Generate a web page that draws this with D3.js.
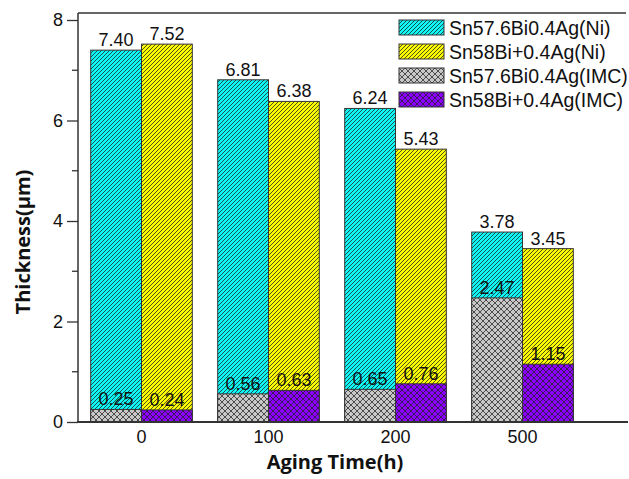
<!DOCTYPE html>
<html>
<head>
<meta charset="utf-8">
<script src="https://cdn.jsdelivr.net/npm/d3@7"></script>
<style>
  html, body { margin: 0; padding: 0; background: #fff; }
  svg { display: block; }
</style>
</head>
<body>
<svg id="chart" width="629" height="479"></svg>
<script>
// Aging time groups
const categories = ["0", "100", "200", "500"];
// Ni layer thickness (µm)
const niSnBiAg = [7.40, 6.81, 6.24, 3.78];
const niSnBiPlusAg = [7.52, 6.38, 5.43, 3.45];
// IMC layer thickness (µm)
const imcSnBiAg = [0.25, 0.56, 0.65, 2.47];
const imcSnBiPlusAg = [0.24, 0.63, 0.76, 1.15];
const seriesNames = ["Sn57.6Bi0.4Ag(Ni)", "Sn58Bi+0.4Ag(Ni)", "Sn57.6Bi0.4Ag(IMC)", "Sn58Bi+0.4Ag(IMC)"];
const yTicks = [0, 2, 4, 6, 8];
const yMinorTicks = [1, 3, 5, 7];

const ARIAL = "Arial, 'Liberation Sans', sans-serif";
const TITLE_FONT = "'Open Sans', Lato, sans-serif";

const svg = d3.select("#chart");
const W = 629, H = 479;
const margin = { left: 78, right: 43, top: 20, bottom: 57 };

const y = d3.scaleLinear().domain([0, 8]).range([H - margin.bottom, margin.top]);
const x = d3.scaleBand().domain(categories).range([margin.left, W - margin.right])
  .paddingInner(0.2).paddingOuter(0.1);
const sub = d3.scaleBand().domain([0, 1]).range([0, x.bandwidth()]);

// Fill patterns
const defs = svg.append("defs");
function hatch(id, bg) {
  const p = defs.append("pattern").attr("id", id).attr("patternUnits", "userSpaceOnUse")
    .attr("width", 4).attr("height", 4);
  p.append("rect").attr("width", 4).attr("height", 4).attr("fill", bg);
  p.append("path").attr("d", "M-1,1 l2,-2 M0,4 l4,-4 M3,5 l2,-2")
    .attr("stroke", "#1a1a1a").attr("stroke-width", 0.75);
}
function cross(id, bg) {
  const s = 6;
  const p = defs.append("pattern").attr("id", id).attr("patternUnits", "userSpaceOnUse")
    .attr("width", s).attr("height", s);
  p.append("rect").attr("width", s).attr("height", s).attr("fill", bg);
  p.append("path").attr("d", `M0,0 L${s},${s} M${s},0 L0,${s}`)
    .attr("stroke", "#222").attr("stroke-width", 0.75);
}
hatch("pCyan", "#10f6f6");
hatch("pYellow", "#fafa00");
cross("pGrey", "#c8c8c8");
cross("pPurple", "#8c00ff");
const fills = ["url(#pCyan)", "url(#pYellow)", "url(#pGrey)", "url(#pPurple)"];

const niSeries = [niSnBiAg, niSnBiPlusAg];
const imcSeries = [imcSnBiAg, imcSnBiPlusAg];

// Bars: Ni layer drawn full height, IMC layer overlaid from the base
const g = svg.append("g");
[0, 1].forEach(s => {
  g.selectAll(null).data(categories).enter().append("rect")
    .attr("x", (c) => x(c) + sub(s))
    .attr("width", sub.bandwidth())
    .attr("y", (c, i) => y(niSeries[s][i]))
    .attr("height", (c, i) => y(0) - y(niSeries[s][i]))
    .attr("fill", fills[s]).attr("stroke", "#333").attr("stroke-width", 1);
  g.selectAll(null).data(categories).enter().append("rect")
    .attr("x", (c) => x(c) + sub(s))
    .attr("width", sub.bandwidth())
    .attr("y", (c, i) => y(imcSeries[s][i]))
    .attr("height", (c, i) => y(0) - y(imcSeries[s][i]))
    .attr("fill", fills[s + 2]).attr("stroke", "#333").attr("stroke-width", 1);
});

// Value labels
function valueLabels(series, s) {
  g.selectAll(null).data(categories).enter().append("text")
    .attr("x", (c) => x(c) + sub(s) + sub.bandwidth() / 2)
    .attr("y", (c, i) => y(series[i]) - 4)
    .attr("text-anchor", "middle")
    .style("font-family", ARIAL).style("font-size", "18px").style("fill", "#111")
    .text((c, i) => series[i].toFixed(2));
}
[0, 1].forEach(s => { valueLabels(niSeries[s], s); valueLabels(imcSeries[s], s); });

// Y axis
const yAxis = svg.append("g").attr("transform", `translate(${margin.left},0)`)
  .call(d3.axisLeft(y).tickValues(yTicks).tickSize(11).tickPadding(4).tickFormat(d3.format("d")));
yAxis.select(".domain").remove();
yAxis.selectAll("line").attr("stroke", "#333").attr("stroke-width", 1.3);
yAxis.selectAll("text").style("font-size", "18px").style("fill", "#111").style("font-family", ARIAL);
svg.append("g").selectAll("line").data(yMinorTicks).enter().append("line")
  .attr("x1", margin.left - 6).attr("x2", margin.left)
  .attr("y1", d => y(d)).attr("y2", d => y(d))
  .attr("stroke", "#333").attr("stroke-width", 1.3);

// Frame: left axis line, top line, bottom axis
svg.append("line").attr("x1", margin.left).attr("x2", margin.left)
  .attr("y1", 13).attr("y2", y(0)).attr("stroke", "#333").attr("stroke-width", 1.5);
svg.append("line").attr("x1", margin.left).attr("x2", 626)
  .attr("y1", 13).attr("y2", 13).attr("stroke", "#333").attr("stroke-width", 1.3);
svg.append("line").attr("x1", margin.left - 1).attr("x2", 628)
  .attr("y1", y(0)).attr("y2", y(0)).attr("stroke", "#333").attr("stroke-width", 2);

// X tick labels
svg.append("g").selectAll("text").data(categories).enter().append("text")
  .attr("x", c => x(c) + x.bandwidth() / 2).attr("y", y(0) + 21)
  .attr("text-anchor", "middle")
  .style("font-family", ARIAL).style("font-size", "18px").style("fill", "#111")
  .text(c => c);

// Axis titles
svg.append("text").attr("x", 335).attr("y", 469).attr("text-anchor", "middle")
  .style("font-family", TITLE_FONT).style("font-weight", "bold")
  .style("font-size", "20px").style("fill", "#111").text("Aging Time(h)");
svg.append("text").attr("transform", "translate(30,242) rotate(-90)")
  .attr("text-anchor", "middle")
  .style("font-family", TITLE_FONT).style("font-weight", "bold")
  .style("font-size", "20px").style("fill", "#111").text("Thickness(\u03bcm)");

// Legend
const leg = svg.append("g").attr("transform", "translate(399,20)");
const row = leg.selectAll("g").data(seriesNames).enter().append("g")
  .attr("transform", (d, i) => `translate(0,${i * 24})`);
row.append("rect").attr("width", 45).attr("height", 15)
  .attr("fill", (d, i) => fills[i]).attr("stroke", "#333").attr("stroke-width", 1);
row.append("text").attr("x", 50).attr("y", 15)
  .style("font-family", ARIAL).style("font-size", "19.5px").style("fill", "#111")
  .text(d => d);
</script>
</body>
</html>
